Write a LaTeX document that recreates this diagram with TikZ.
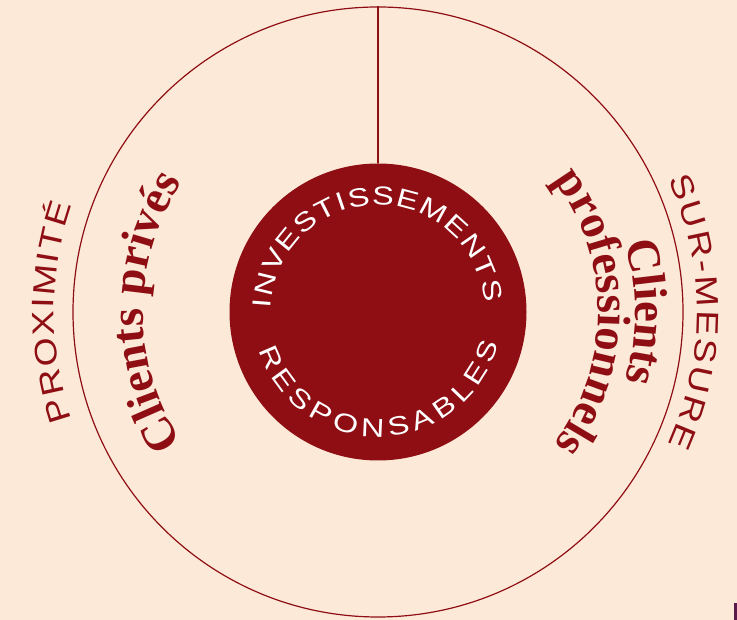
\documentclass[tikz,border=0pt]{standalone}
\usepackage{fontspec}
\usetikzlibrary{decorations.text}
\newfontfamily\widesans[FakeStretch=1.25]{Liberation Sans}
\newfontfamily\labelsans[FakeStretch=1.2]{Liberation Sans}
\newfontfamily\boldserif{Liberation Serif}
\definecolor{wine}{HTML}{8E0E14}
\definecolor{cream}{HTML}{FDE9D8}
\definecolor{plum}{HTML}{5A1A4A}
\begin{document}
\begin{tikzpicture}[x=1pt,y=1pt,
  ring/.style={circle,draw=wine,line width=1.2pt,minimum size=610pt,inner sep=0pt},
  core/.style={circle,fill=wine,minimum size=297pt,inner sep=0pt},
  link/.style={draw=wine,line width=1.5pt},
  innertext/.style={decorate,decoration={text along path,text color=white,
     text align={fit to path},text={|\widesans\fontsize{26}{26}\selectfont|#1}}},
  sidetext/.style={decorate,decoration={text along path,text color=wine,
     text align={fit to path},text={|\labelsans\fontsize{31}{31}\selectfont|#1}}},
  boldtext/.style={decorate,decoration={text along path,text color=wine,
     text align=center,text={|\boldserif\bfseries\fontsize{47}{47}\selectfont|#1}}}
]
\useasboundingbox (0,0) rectangle (737,620);
\fill[cream] (0,0) rectangle (737,620);
\fill[plum] (734,0) rectangle (737,17);
\coordinate (c) at (378,308);
\node[ring] (outer) at (c) {};
\node[core] (inner) at (c) {};
\draw[link] (outer.north) -- (inner.north);
% inner circle texts
\path[innertext={INVESTISSEMENTS}] ([shift={(178:107)}]c) arc[start angle=178,end angle=5,radius=107];
\path[innertext={RESPONSABLES}] ([shift={(198:125)}]c) arc[start angle=198,end angle=345,radius=125];
% bold labels
\path[boldtext={Clients privés}] ([shift={(215:235)}]c) arc[start angle=215,end angle=145,radius=235];
\path[boldtext={professionnels}] ([shift={(40:220)}]c) arc[start angle=40,end angle=-40,radius=220];
\path[boldtext={Clients}] ([shift={(25:257)}]c) arc[start angle=25,end angle=-25,radius=257];
% outer labels
\path[sidetext={PROXIMITÉ}] ([shift={(199.3:324)}]c) arc[start angle=199.3,end angle=160.7,radius=324];
\path[sidetext={SUR-MESURE}] ([shift={(24.5:319)}]c) arc[start angle=24.5,end angle=-24.5,radius=319];
\end{tikzpicture}
\end{document}
